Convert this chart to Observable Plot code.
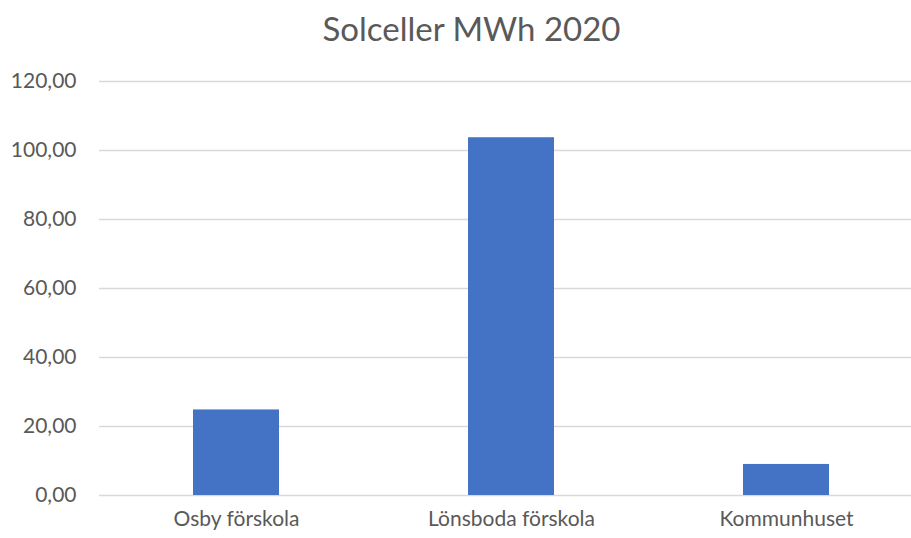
<!DOCTYPE html>
<html>
<head>
<meta charset="utf-8">
<script src="https://cdn.jsdelivr.net/npm/d3@7"></script>
<script src="https://cdn.jsdelivr.net/npm/@observablehq/plot@0.6"></script>
<style>
  html, body { margin: 0; padding: 0; background: #fff; }
  #wrap { width: 911px; height: 538px; overflow: hidden; position: relative; }
  #title { width: 911px; box-sizing: border-box; padding-left: 32px; height: 60px; line-height: 56px;
    text-align: center; font-family: Lato, sans-serif; font-size: 33px; color: #595959; }
  svg { display: block; }
</style>
</head>
<body>
<div id="wrap">
  <div id="title">Solceller MWh 2020</div>
  <div id="chart"></div>
</div>
<script>
const categories = ["Osby förskola", "Lönsboda förskola", "Kommunhuset"];
const values = [24.8, 103.7, 9.0];
const yTicks = [0, 20, 40, 60, 80, 100, 120];

const data = categories.map((c, i) => ({category: c, value: values[i]}));
const fmt = d => d3.format(".2f")(d).replace(".", ",");

const chart = Plot.plot({
  width: 911,
  height: 478,
  marginTop: 21,
  marginBottom: 43,
  marginLeft: 99,
  marginRight: 0,
  style: {fontFamily: "Lato, sans-serif", fontSize: "21px", color: "#595959", background: "#fff"},
  x: {domain: categories, range: [99, 924], paddingInner: 0.687, paddingOuter: 0.3435, label: null},
  y: {domain: [0, 120], label: null},
  marks: [
    Plot.ruleY(yTicks, {stroke: "#d9d9d9", strokeWidth: 1.3}),
    Plot.barY(data, {x: "category", y: "value", fill: "#4472C4"}),
    Plot.axisY({ticks: yTicks, tickFormat: fmt, tickSize: 0, tickPadding: 23, label: null, fill: "#595959", fontSize: 21}),
    Plot.axisX({tickSize: 0, tickPadding: 16, label: null, fill: "#595959", fontSize: 21})
  ]
});
document.getElementById("chart").appendChild(chart);
</script>
</body>
</html>
